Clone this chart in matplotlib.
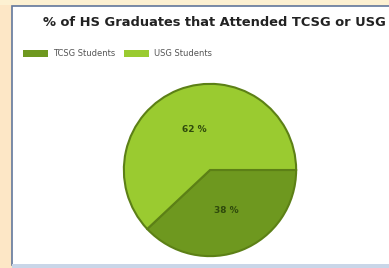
import matplotlib
matplotlib.use("Agg")
import matplotlib.pyplot as plt
from matplotlib.patches import Rectangle, Patch

# data
labels = ["TCSG Students", "USG Students"]
shares = [38, 62]
colors = ["#6e981f", "#9acb30"]
title = "% of HS Graduates that Attended TCSG or USG"

W, H = 389, 268
fig = plt.figure(figsize=(W / 100, H / 100), dpi=100)
fig.patch.set_facecolor("#fde7c6")

# white chart panel with a thin frame
bg = fig.add_axes([0, 0, 1, 1])
bg.set_xlim(0, W)
bg.set_ylim(H, 0)
bg.axis("off")
bg.add_patch(Rectangle((0, 0), W, 5, facecolor="#fdf1d2", edgecolor="none"))
bg.add_patch(Rectangle((12.5, 5.5), W, 259.5, facecolor="white",
                       edgecolor="#62789c", linewidth=1.2))
bg.add_patch(Rectangle((12.5, 264), W, 4, facecolor="#c9d6e8", edgecolor="none"))

bg.text(214, 23, title, ha="center", va="center", fontsize=9.4,
        fontweight="bold", color="#222222")

handles = [Patch(facecolor=c, edgecolor="none") for c in colors]
leg = fig.legend(handles, labels, loc="center left", bbox_to_anchor=(20 / W, 1 - 54 / H),
                 ncol=2, frameon=False, fontsize=6, handlelength=3.0, handleheight=0.9,
                 handletextpad=0.6, columnspacing=1.0, borderaxespad=0)
for t in leg.get_texts():
    t.set_color("#555555")

# pie
r = 87
ax = fig.add_axes([(210 - r) / W, (H - 170 - r) / H, 2 * r / W, 2 * r / H])
wedges, texts, autotexts = ax.pie(
    shares, colors=colors, startangle=0, counterclock=False,
    autopct="%d %%", pctdistance=0.5,
    wedgeprops=dict(edgecolor="#5c8016", linewidth=1.5),
    textprops=dict(fontsize=6.5, fontweight="bold", color="#2f4a0c"))
ax.set_xlim(-1.01, 1.01)
ax.set_ylim(-1.01, 1.01)
ax.set_aspect("equal")

fig.savefig("out.png", dpi=100, facecolor=fig.get_facecolor())
